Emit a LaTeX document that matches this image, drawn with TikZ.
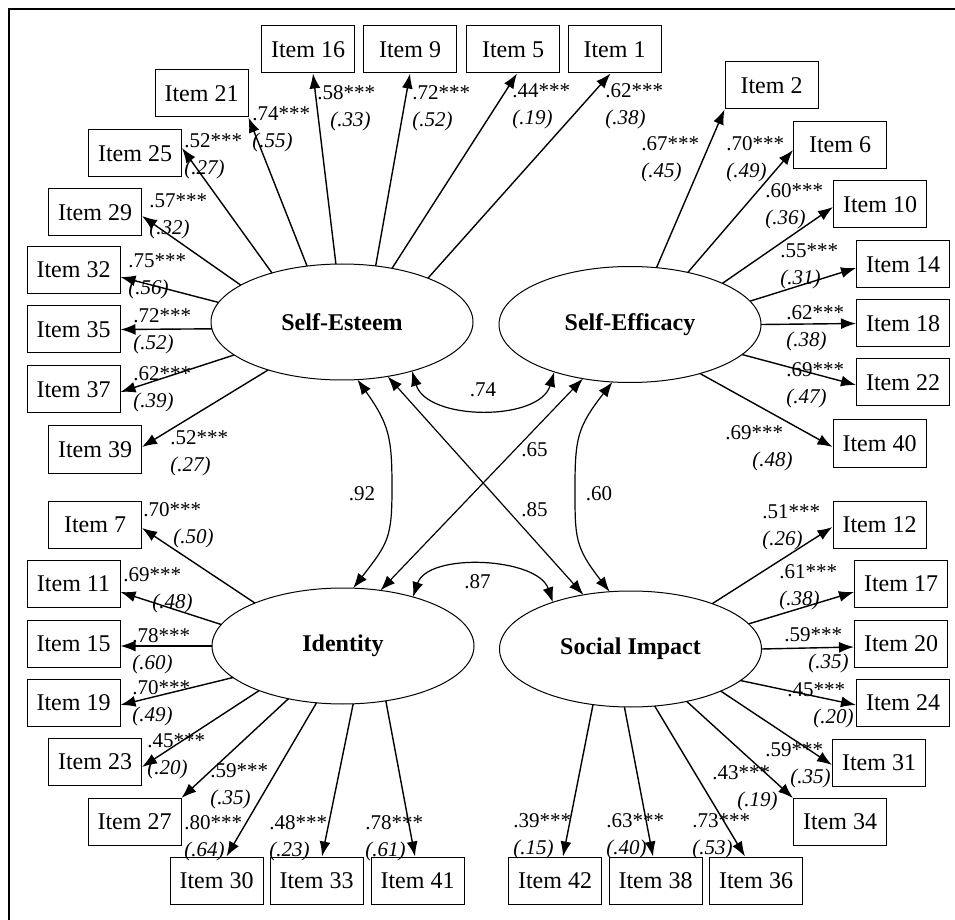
\documentclass[tikz,border=0pt]{standalone}
\usepackage{fontspec}
\setmainfont{Liberation Serif}
\usetikzlibrary{arrows.meta,shapes.geometric}

\tikzset{
    item/.style={draw, line width=0.5pt, minimum width=46.5pt, minimum height=23.5pt, inner sep=0pt, font=\fontsize{12}{14}\selectfont},
    latent/.style={draw, ellipse, line width=0.5pt, minimum width=131pt, minimum height=58pt, inner sep=0pt, outer sep=0pt, font=\fontsize{12}{14}\selectfont\bfseries},
    load/.style={-{Latex[length=7.5pt,width=5.5pt]}, line width=0.7pt},
    corr/.style={{Latex[length=7.5pt,width=5.5pt]}-{Latex[length=7.5pt,width=5.5pt]}, line width=0.6pt},
    est/.style={anchor=north west, inner sep=0pt, align=left, font=\fontsize{10.5}{13.5}\selectfont},
    rval/.style={inner sep=0pt, font=\fontsize{10.5}{12}\selectfont}
}

\begin{document}
\begin{tikzpicture}[x=0.5pt, y=-0.5pt]
    \useasboundingbox (0,0) rectangle (955,920);
    \draw[line width=1.4pt] (9,920) -- (9,9) -- (955,9);

    % latent factors
    \path node[latent] (SE) at (342,322) {Self-Esteem}
        node[latent] (SEff) at (630,324.5) {Self-Efficacy}
        node[latent] (ID) at (343,646) {Identity}
        node[latent] (SI) at (630.5,649) {Social Impact};

    % items
    \path node[item] (I16) at (308,49.5) {Item 16}
        node[item] (I9) at (410,49.5) {Item 9}
        node[item] (I5) at (513,49.5) {Item 5}
        node[item] (I1) at (614.5,49.5) {Item 1}
        node[item] (I21) at (201.5,93.5) {Item 21}
        node[item] (I25) at (135,153.5) {Item 25}
        node[item] (I29) at (95,212.5) {Item 29}
        node[item] (I32) at (73.5,270) {Item 32}
        node[item] (I35) at (73.5,329.5) {Item 35}
        node[item] (I37) at (73.5,389.5) {Item 37}
        node[item] (I39) at (95,449.5) {Item 39}
        node[item] (I2) at (771.5,85.5) {Item 2}
        node[item] (I6) at (840,145) {Item 6}
        node[item] (I10) at (880,204.5) {Item 10}
        node[item] (I14) at (903,264.5) {Item 14}
        node[item] (I18) at (903,323.5) {Item 18}
        node[item] (I22) at (903,382.5) {Item 22}
        node[item] (I40) at (879.5,443.5) {Item 40}
        node[item] (I7) at (95,524.5) {Item 7}
        node[item] (I11) at (73.5,583.5) {Item 11}
        node[item] (I15) at (73.5,643.5) {Item 15}
        node[item] (I19) at (73.5,702.5) {Item 19}
        node[item] (I23) at (95,762) {Item 23}
        node[item] (I27) at (134.5,822) {Item 27}
        node[item] (I30) at (216.5,880.5) {Item 30}
        node[item] (I33) at (316.5,880.5) {Item 33}
        node[item] (I41) at (417.5,880.5) {Item 41}
        node[item] (I12) at (879.5,524.5) {Item 12}
        node[item] (I17) at (901,583.5) {Item 17}
        node[item] (I20) at (901,643.5) {Item 20}
        node[item] (I24) at (903,702.5) {Item 24}
        node[item] (I31) at (879,762.5) {Item 31}
        node[item] (I34) at (840,822) {Item 34}
        node[item] (I42) at (555,880.5) {Item 42}
        node[item] (I38) at (655.5,880.5) {Item 38}
        node[item] (I36) at (756,880.5) {Item 36};

    % loadings
    \draw[load] (SE.96) -- ([xshift=2.5pt]I16.south);
    \draw[load] (SE.59) -- (I9.south);
    \draw[load] (SE.47) -- ([xshift=2pt]I5.south);
    \draw[load] (SE.27) -- ([xshift=-2pt]I1.south);
    \draw[load] (SE.122) -- (I21.south east);
    \draw[load] (SE.145) -- ([yshift=2.75pt]I25.east);
    \draw[load] (SE.160) -- ([yshift=-1.75pt]I29.east);
    \draw[load] (SE.171) -- ([yshift=-3.5pt]I32.east);
    \draw[load] (SE.183) -- (I35.east);
    \draw[load] (SE.197) -- ([yshift=-1.25pt]I37.east);
    \draw[load] (SE.213) -- ([yshift=1.25pt]I39.east);

    \draw[load] (SEff.65) -- (I2.south west);
    \draw[load] (SEff.42) -- ([yshift=-2.5pt]I6.west);
    \draw[load] (SEff.24) -- ([yshift=-1.25pt]I10.west);
    \draw[load] (SEff.11) -- ([yshift=-1.75pt]I14.west);
    \draw[load] (SEff.east) -- (I18.west);
    \draw[load] (SEff.345) -- ([yshift=-1.25pt]I22.west);
    \draw[load] (SEff.325) -- ([yshift=-1.75pt]I40.west);

    \draw[load] (ID.154) -- ([yshift=-1.75pt]I7.east);
    \draw[load] (ID.170) -- ([yshift=-4.25pt]I11.east);
    \draw[load] (ID.west) -- ([yshift=-1.25pt]I15.east);
    \draw[load] (ID.196) -- ([yshift=-1.25pt]I19.east);
    \draw[load] (ID.208) -- ([yshift=-2.5pt]I23.east);
    \draw[load] (ID.224) -- (I27.north east);
    \draw[load] (ID.245) -- ([xshift=5pt]I30.north);
    \draw[load] (ID.280) -- ([xshift=2.75pt]I33.north);
    \draw[load] (ID.308) -- ([xshift=-1.25pt]I41.north);

    \draw[load] (SI.29) -- ([yshift=-1.25pt]I12.west);
    \draw[load] (SI.12) -- ([yshift=-4.25pt]I17.west);
    \draw[load] (SI.east) -- ([yshift=-1.75pt]I20.west);
    \draw[load] (SI.344) -- ([yshift=-1.25pt]I24.west);
    \draw[load] (SI.335) -- ([yshift=-1.25pt]I31.west);
    \draw[load] (SI.317) -- (I34.north west);
    \draw[load] (SI.293) -- ([xshift=-5.5pt]I36.north);
    \draw[load] (SI.264) -- ([xshift=-1.25pt]I38.north);
    \draw[load] (SI.236) -- ([xshift=4pt]I42.north);

    % estimates
    \path node[est] (e16) at (317,85) {.58***\\\hspace*{6.5pt}\textit{(.33)}}
        node[est] (e9) at (412,85) {.72***\\\textit{(.52)}}
        node[est] (e5) at (512,83) {.44***\\\textit{(.19)}}
        node[est] (e1) at (605,83) {.62***\\\textit{(.38)}}
        node[est] (e21) at (252,106) {.74***\\\textit{(.55)}}
        node[est] (e25) at (184,133) {.52***\\\textit{(.27)}}
        node[est] (e29) at (149,193) {.57***\\\textit{(.32)}}
        node[est] (e32) at (128,253) {.75***\\\textit{(.56)}}
        node[est] (e35) at (133,308) {.72***\\\textit{(.52)}}
        node[est] (e37) at (133,366) {.62***\\\textit{(.39)}}
        node[est] (e39) at (170,430) {.52***\\\textit{(.27)}}
        node[est] (e2) at (641,136) {.67***\\\textit{(.45)}}
        node[est] (e6) at (726,136) {.70***\\\textit{(.49)}}
        node[est] (e10) at (765,183) {.60***\\\textit{(.36)}}
        node[est] (e14) at (780,243) {.55***\\\textit{(.31)}}
        node[est] (e18) at (786,305) {.62***\\\textit{(.38)}}
        node[est] (e22) at (786,362) {.69***\\\textit{(.47)}}
        node[est] (e40) at (725,425) {.69***\\\hspace*{13.5pt}\textit{(.48)}}
        node[est] (e7) at (143,502) {.70***\\\hspace*{15pt}\textit{(.50)}}
        node[est] (e11) at (123,567) {.69***\\\hspace*{14.5pt}\textit{(.48)}}
        node[est] (e15) at (132,628) {.78***\\\textit{(.60)}}
        node[est] (e19) at (132,680) {.70***\\\textit{(.49)}}
        node[est] (e23) at (147,733) {.45***\\\textit{(.20)}}
        node[est] (e27) at (210,763) {.59***\\\textit{(.35)}}
        node[est] (e30) at (184,815) {.80***\\\textit{(.64)}}
        node[est] (e33) at (269,815) {.48***\\\textit{(.23)}}
        node[est] (e41) at (365,815) {.78***\\\textit{(.61)}}
        node[est] (e12) at (762,504) {.51***\\\textit{(.26)}}
        node[est] (e17) at (779,564) {.61***\\\textit{(.38)}}
        node[est] (e20) at (784,627) {.59***\\\hspace*{12pt}\textit{(.35)}}
        node[est] (e24) at (787,682) {.45***\\\hspace*{13pt}\textit{(.20)}}
        node[est] (e31) at (765,742) {.59***\\\hspace*{12.5pt}\textit{(.35)}}
        node[est] (e34) at (712,765) {.43***\\\hspace*{12.5pt}\textit{(.19)}}
        node[est] (e42) at (513,813) {.39***\\\textit{(.15)}}
        node[est] (e38) at (606,813) {.63***\\\textit{(.40)}}
        node[est] (e36) at (692,813) {.73***\\\textit{(.53)}};

    % correlations
    \coordinate (k92) at (392,488);
    \coordinate (k60) at (575,488);
    \draw[corr] (SE.325) .. controls +(15,50) and +(-15,50) .. (SEff.212);
    \draw[corr] (ID.35) .. controls +(15,-45) and +(-15,-45) .. (SI.149);
    \draw[corr] (SE.285) .. controls +(32,45) and +(0,-50) .. (k92) .. controls +(0,50) and +(35,-45) .. (ID.80);
    \draw[corr] (SEff.253) .. controls +(-35,45) and +(0,-50) .. (k60) .. controls +(0,50) and +(-35,-45) .. (SI.110);
    \draw[corr] (ID.56) -- (SEff.229);
    \draw[corr] (SE.310) -- (SI.131);
    \path node[rval] (r74) at (483,390) {.74}
        node[rval] (r92) at (362,494) {.92}
        node[rval] (r60) at (599,494) {.60}
        node[rval] (r87) at (477.5,582) {.87}
        node[rval] (r65) at (534.5,450) {.65}
        node[rval] (r85) at (534.5,510) {.85};
\end{tikzpicture}
\end{document}
